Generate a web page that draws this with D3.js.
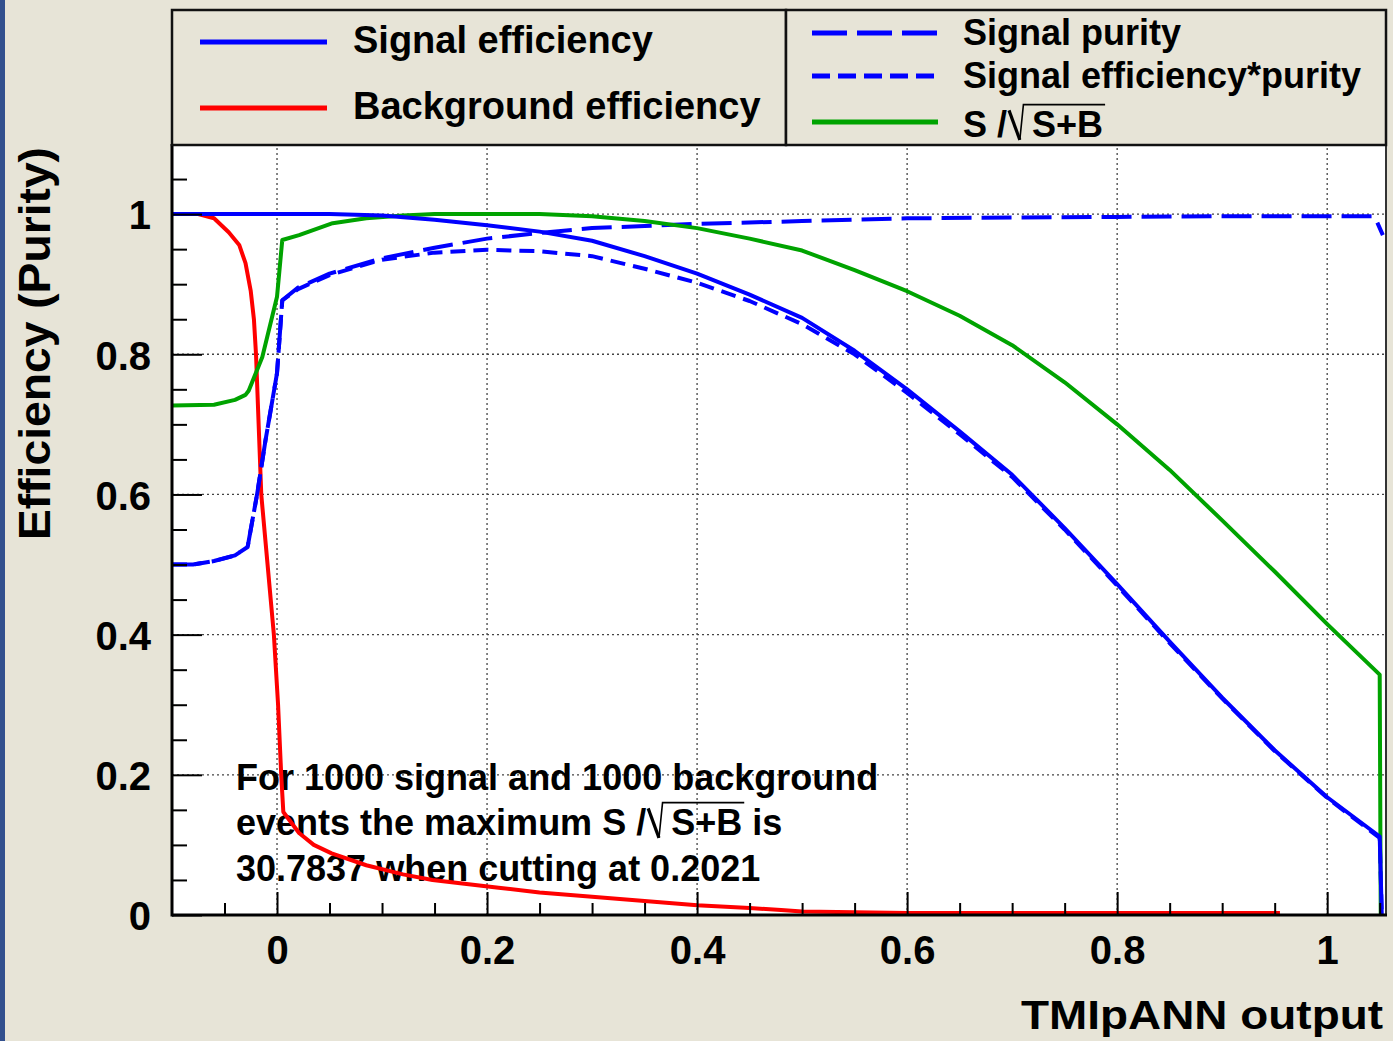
<!DOCTYPE html>
<html><head><meta charset="utf-8">
<script src="https://cdn.jsdelivr.net/npm/d3@7"></script>
<style>body{margin:0;background:#e7e4d7;} svg{display:block}</style>
</head><body>
<svg id="c" width="1393" height="1041"></svg>
<script>
// ---- data ----
const xMajorTicks = [0, 0.2, 0.4, 0.6, 0.8, 1];
const xTickLabels = ["0", "0.2", "0.4", "0.6", "0.8", "1"];
const xMinorTicks = [-0.05, 0.05, 0.1, 0.15, 0.25, 0.3, 0.35, 0.45, 0.5, 0.55, 0.65, 0.7, 0.75, 0.85, 0.9, 0.95, 1.05];
const yMajorTicks = [0, 0.2, 0.4, 0.6, 0.8, 1];
const yTickLabels = ["0", "0.2", "0.4", "0.6", "0.8", "1"];
const yMinorTicks = [0.05, 0.1, 0.15, 0.25, 0.3, 0.35, 0.45, 0.5, 0.55, 0.65, 0.7, 0.75, 0.85, 0.9, 0.95, 1.05];

const signalEfficiency = [[-0.1,1],[0.05,1],[0.1,0.998],[0.15,0.992],[0.2,0.984],[0.25,0.975],[0.3,0.962],[0.35,0.94],[0.4,0.915],[0.45,0.885],[0.5,0.852],[0.55,0.805],[0.6,0.75],[0.65,0.69],[0.7,0.628],[0.75,0.552],[0.8,0.472],[0.85,0.39],[0.9,0.31],[0.95,0.235],[1.0,0.168],[1.05,0.112],[1.052,0]];
const backgroundEfficiency = [[-0.1,1],[-0.075,1],[-0.06,0.994],[-0.046,0.974],[-0.036,0.956],[-0.03,0.93],[-0.025,0.89],[-0.022,0.85],[-0.02,0.8],[-0.015,0.6],[-0.009,0.5],[-0.003,0.4],[0.001,0.3],[0.004,0.2],[0.006,0.147],[0.021,0.117],[0.035,0.1],[0.052,0.088],[0.085,0.071],[0.12,0.058],[0.148,0.05],[0.211,0.039],[0.25,0.032],[0.3,0.026],[0.35,0.02],[0.4,0.014],[0.45,0.01],[0.48,0.007],[0.5,0.005],[0.6,0.003],[0.7,0.003],[0.8,0.003],[0.9,0.003],[0.955,0.003]];
const signalPurity = [[-0.1,0.5],[-0.08,0.5],[-0.06,0.505],[-0.04,0.513],[-0.028,0.525],[-0.019,0.6],[-0.011,0.677],[0,0.773],[0.005,0.877],[0.02,0.895],[0.05,0.915],[0.1,0.937],[0.15,0.952],[0.2,0.965],[0.25,0.973],[0.3,0.98],[0.35,0.983],[0.4,0.986],[0.5,0.99],[0.6,0.994],[0.7,0.995],[0.8,0.996],[0.9,0.997],[1.0,0.997],[1.045,0.997],[1.053,0.97]];
const effTimesPurity = [[-0.1,0.5],[-0.08,0.5],[-0.06,0.505],[-0.04,0.513],[-0.028,0.525],[-0.019,0.6],[-0.011,0.677],[0,0.773],[0.005,0.877],[0.02,0.893],[0.05,0.913],[0.1,0.935],[0.15,0.945],[0.2,0.949],[0.25,0.947],[0.3,0.94],[0.35,0.922],[0.4,0.902],[0.45,0.876],[0.5,0.843],[0.55,0.8],[0.6,0.745],[0.65,0.686],[0.7,0.625],[0.75,0.55],[0.8,0.47],[0.85,0.388],[0.9,0.309],[0.95,0.234],[1.0,0.167],[1.05,0.11],[1.052,0]];
const significance = [[-0.1,0.727],[-0.06,0.728],[-0.04,0.735],[-0.03,0.742],[-0.027,0.748],[-0.014,0.796],[0,0.882],[0.005,0.963],[0.021,0.97],[0.053,0.987],[0.085,0.994],[0.12,0.998],[0.15,1.0],[0.25,1.0],[0.3,0.997],[0.35,0.99],[0.4,0.98],[0.45,0.965],[0.5,0.948],[0.55,0.92],[0.6,0.89],[0.65,0.855],[0.7,0.813],[0.75,0.76],[0.8,0.70],[0.85,0.635],[0.9,0.563],[0.95,0.49],[1.0,0.415],[1.05,0.343],[1.051,0]];

const annotationLines = ["For 1000 signal and 1000 background", "events the maximum ", "30.7837 when cutting at 0.2021"];

// ---- layout ----
const svg = d3.select("#c");
const W = 1393, H = 1041;
const L = 172, R = 1386, T = 144, B = 915;
const FONT = "'Liberation Sans', Arial, Helvetica, sans-serif";
const BLUE = "#0000ff", RED = "#ff0000", GREEN = "#00a300";

svg.append("rect").attr("width", W).attr("height", H).attr("fill", "#e7e4d7");
svg.append("rect").attr("x", 0).attr("y", 0).attr("width", 5).attr("height", H).attr("fill", "#33508e");

const x = d3.scaleLinear().domain([-0.1, 1.056]).range([L, R]);
const y = d3.scaleLinear().domain([0, 1.1]).range([B, T]);

svg.append("rect").attr("x", L).attr("y", T).attr("width", R - L).attr("height", B - T).attr("fill", "#fff");

// grid
const grid = svg.append("g").attr("stroke", "#444").attr("stroke-width", 1.3).attr("stroke-dasharray", "2,3");
xMajorTicks.forEach(v => grid.append("line").attr("x1", x(v)).attr("x2", x(v)).attr("y1", B).attr("y2", T));
yMajorTicks.filter(v => v > 0).forEach(v => grid.append("line").attr("x1", L).attr("x2", R).attr("y1", y(v)).attr("y2", y(v)));

// text with hand-drawn radical: prefix + "S /" + radical + "S+B" + suffix
function sqrtText(g, x0, yb, size, prefix, suffix) {
  const mk = (xx, s) => g.append("text").attr("x", xx).attr("y", yb).attr("font-family", FONT)
      .attr("font-weight", "bold").attr("font-size", size).attr("fill", "#000").text(s);
  const t1 = mk(x0, prefix + "S /");
  const w1 = t1.node().getComputedTextLength();
  const xr = x0 + w1 + 2;
  g.append("line").attr("x1", xr).attr("y1", yb - 0.74 * size).attr("x2", xr + 0.3 * size).attr("y2", yb + 0.08 * size)
    .attr("stroke", "#000").attr("stroke-width", 3.2).attr("stroke-linecap", "butt");
  const xs = xr + 0.64 * size;
  const t3 = mk(xs, "S+B");
  const w3 = t3.node().getComputedTextLength();
  g.append("path").attr("d", `M${xr + 0.3 * size},${yb + 0.08 * size} L${xr + 0.4 * size},${yb - 0.9 * size} L${xs + w3 + 2},${yb - 0.9 * size}`)
    .attr("fill", "none").attr("stroke", "#000").attr("stroke-width", 1.6);
  if (suffix) mk(xs + w3, suffix);
}

// annotation
const ann = svg.append("g");
const annSize = 36;
ann.append("text").attr("x", 236).attr("y", 790).attr("font-family", FONT).attr("font-weight", "bold").attr("font-size", annSize).text(annotationLines[0]);
sqrtText(ann, 236, 835, annSize, annotationLines[1], "\u00A0is");
ann.append("text").attr("x", 236).attr("y", 881).attr("font-family", FONT).attr("font-weight", "bold").attr("font-size", annSize).text(annotationLines[2]);

// curves
svg.append("clipPath").attr("id", "clip").append("rect").attr("x", L).attr("y", T - 3).attr("width", R - L).attr("height", B - T + 4);
const line = d3.line().x(d => x(d[0])).y(d => y(d[1]));
const curves = svg.append("g").attr("clip-path", "url(#clip)").attr("fill", "none").attr("stroke-width", 4).attr("stroke-linejoin", "round");
curves.append("path").datum(backgroundEfficiency).attr("d", line).attr("stroke", RED);
curves.append("path").datum(effTimesPurity).attr("d", line).attr("stroke", BLUE).attr("stroke-dasharray", "15,8");
curves.append("path").datum(signalPurity).attr("d", line).attr("stroke", BLUE).attr("stroke-dasharray", "30,10");
curves.append("path").datum(significance).attr("d", line).attr("stroke", GREEN);
curves.append("path").datum(signalEfficiency).attr("d", line).attr("stroke", BLUE);

// axes
function styleAxis(g) {
  g.selectAll("line").attr("stroke", "#000").attr("stroke-width", 2);
  g.selectAll("text").attr("font-family", FONT).attr("font-weight", "bold").attr("font-size", 40).attr("fill", "#000");
}
const xMajor = d3.axisBottom(x).tickValues(xMajorTicks).tickFormat((d, i) => xTickLabels[i]).tickSize(-23).tickSizeOuter(0).tickPadding(21);
const xMinor = d3.axisBottom(x).tickValues(xMinorTicks).tickFormat("").tickSize(-12).tickSizeOuter(0);
const yMajor = d3.axisLeft(y).tickValues(yMajorTicks).tickFormat((d, i) => yTickLabels[i]).tickSize(-30).tickSizeOuter(0).tickPadding(21);
const yMinor = d3.axisLeft(y).tickValues(yMinorTicks).tickFormat("").tickSize(-15).tickSizeOuter(0);

svg.append("g").attr("transform", `translate(0,${B})`).call(xMinor).call(styleAxis).select(".domain").remove();
svg.append("g").attr("transform", `translate(${L},0)`).call(yMinor).call(styleAxis).select(".domain").remove();
const gx = svg.append("g").attr("transform", `translate(0,${B})`).call(xMajor).call(styleAxis);
gx.select(".domain").remove();
const gy = svg.append("g").attr("transform", `translate(${L},0)`).call(yMajor).call(styleAxis);
gy.select(".domain").remove();
gy.selectAll("text").attr("dy", "0.37em");

// frame
svg.append("line").attr("x1", R).attr("x2", R).attr("y1", T).attr("y2", B).attr("stroke", "#333").attr("stroke-width", 2);
svg.append("line").attr("x1", L).attr("x2", L).attr("y1", T).attr("y2", B + 1.5).attr("stroke", "#000").attr("stroke-width", 3);
svg.append("line").attr("x1", L).attr("x2", R + 1).attr("y1", B).attr("y2", B).attr("stroke", "#000").attr("stroke-width", 3);

// axis titles
svg.append("text").attr("x", 1383).attr("y", 1029).attr("text-anchor", "end")
  .attr("font-family", FONT).attr("font-weight", "bold").attr("font-size", 41)
  .attr("textLength", 362).attr("lengthAdjust", "spacingAndGlyphs").text("TMIpANN output");
svg.append("text").attr("transform", "translate(50,147) rotate(-90)").attr("text-anchor", "end")
  .attr("font-family", FONT).attr("font-weight", "bold").attr("font-size", 44)
  .attr("textLength", 393).attr("lengthAdjust", "spacingAndGlyphs").text("Efficiency (Purity)");

// legends
const leg = svg.append("g");
leg.append("rect").attr("x", L).attr("y", 10).attr("width", 786 - L).attr("height", T + 1 - 10).attr("fill", "#e7e4d7").attr("stroke", "#111").attr("stroke-width", 2.5);
leg.append("rect").attr("x", 786).attr("y", 10).attr("width", R - 786).attr("height", T + 1 - 10).attr("fill", "#e7e4d7").attr("stroke", "#111").attr("stroke-width", 2.5);

const legLeft = [
  {label: "Signal efficiency", color: BLUE, ly: 42, ty: 53},
  {label: "Background efficiency", color: RED, ly: 108, ty: 119}
];
legLeft.forEach(d => {
  leg.append("line").attr("x1", 200).attr("x2", 327).attr("y1", d.ly).attr("y2", d.ly).attr("stroke", d.color).attr("stroke-width", 5);
  leg.append("text").attr("x", 353).attr("y", d.ty).attr("font-family", FONT).attr("font-weight", "bold").attr("font-size", 38).text(d.label);
});
const legRight = [
  {label: "Signal purity", color: BLUE, dash: "35,10", ly: 33, ty: 45},
  {label: "Signal efficiency*purity", color: BLUE, dash: "18,8", ly: 76, ty: 88},
  {label: null, color: GREEN, dash: null, ly: 122, ty: 137}
];
legRight.forEach(d => {
  const l = leg.append("line").attr("x1", 812).attr("x2", 938).attr("y1", d.ly).attr("y2", d.ly).attr("stroke", d.color).attr("stroke-width", 5);
  if (d.dash) l.attr("stroke-dasharray", d.dash);
  if (d.label) leg.append("text").attr("x", 963).attr("y", d.ty).attr("font-family", FONT).attr("font-weight", "bold").attr("font-size", 36).text(d.label);
  else sqrtText(leg, 963, d.ty, 36, "", "");
});
</script>
</body></html>
